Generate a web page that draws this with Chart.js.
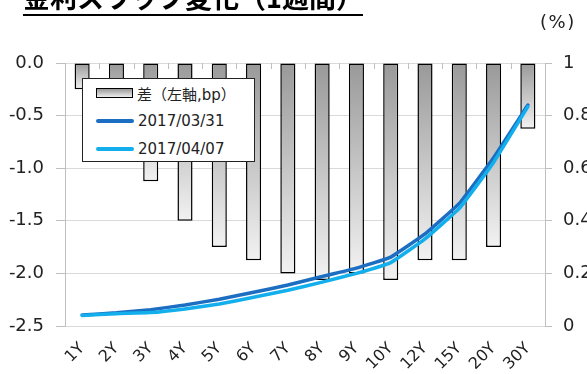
<!DOCTYPE html>
<html>
<head>
<meta charset="utf-8">
<script src="https://cdn.jsdelivr.net/npm/chart.js@4"></script>
<style>
  body { margin: 0; background: #fff; }
  #wrap { position: relative; width: 587px; height: 374px; overflow: hidden; font-family: "DejaVu Sans", "Noto Sans CJK JP", sans-serif; color: #222; }
  #title { position: absolute; left: 23px; top: -17px; font: bold 27px/27px "Noto Sans CJK JP", sans-serif; color: #000; border-bottom: 2.5px solid #000; padding-bottom: 4px; white-space: nowrap; }
  #unit { position: absolute; left: 540px; top: 11px; font-size: 18px; letter-spacing: 1.5px; }
  #legend { position: absolute; left: 82px; top: 78px; width: 171px; height: 82px; border: 1px solid #222; background: #fff; box-sizing: content-box; }
  .row { position: absolute; left: 13px; height: 20px; display: flex; align-items: center; font-size: 15px; white-space: nowrap; }
  .sw { width: 38px; margin-right: 4px; }
  .bar { height: 8px; border: 1.5px solid #000; box-sizing: content-box; width: 35px; background: linear-gradient(#999, #eee); }
  .line { height: 4px; border-radius: 2px; }
</style>
</head>
<body>
<div id="wrap">
  <canvas id="chart" width="587" height="374"></canvas>
  <div id="title">金利スワップ変化（1週間）</div>
  <div id="unit">(%)</div>
  <div id="legend"></div>
</div>
<script>
const tenors = ['1Y', '2Y', '3Y', '4Y', '5Y', '6Y', '7Y', '8Y', '9Y', '10Y', '12Y', '15Y', '20Y', '30Y'];
// change over the week, bp (left axis)
const diffBp = [-0.25, -0.75, -1.125, -1.5, -1.75, -1.875, -2.0, -2.0625, -2.0, -2.0625, -1.875, -1.875, -1.75, -0.625];
// swap rates, % (right axis)
const rate0331 = [0.042, 0.050, 0.062, 0.080, 0.102, 0.128, 0.156, 0.188, 0.220, 0.262, 0.350, 0.466, 0.640, 0.840];
const rate0407 = [0.040, 0.047, 0.051, 0.065, 0.084, 0.109, 0.136, 0.167, 0.200, 0.241, 0.331, 0.447, 0.622, 0.834];
const leftTicks = [0, -0.5, -1.0, -1.5, -2.0, -2.5];
const rightTicks = [0, 0.2, 0.4, 0.6, 0.8, 1];

const labels = ['差（左軸,bp）', '2017/03/31', '2017/04/07'];
const darkBlue = '#1B6EC2';
const lightBlue = '#13AFEC';

function barFill(c) {
  const chart = c.chart;
  if (!chart.chartArea || c.raw == null) return '#ccc';
  const ys = chart.scales.y;
  const g = chart.ctx.createLinearGradient(0, ys.getPixelForValue(0), 0, ys.getPixelForValue(c.raw));
  g.addColorStop(0, '#999999');
  g.addColorStop(1, '#f2f2f2');
  return g;
}

// small tick marks hanging down from the zero line between categories
const topTicks = {
  id: 'topTicks',
  beforeDatasetsDraw(chart) {
    const xs = chart.scales.x;
    const top = chart.scales.y.getPixelForValue(0);
    const ctx = chart.ctx;
    ctx.save();
    ctx.strokeStyle = '#bfbfbf';
    ctx.lineWidth = 1;
    for (let i = 1; i < tenors.length; i++) {
      const x = Math.round((xs.getPixelForValue(i - 1) + xs.getPixelForValue(i)) / 2) + 0.5;
      ctx.beginPath();
      ctx.moveTo(x, top);
      ctx.lineTo(x, top + 6);
      ctx.stroke();
    }
    ctx.restore();
  }
};

const font = { family: '"DejaVu Sans", "Noto Sans CJK JP", sans-serif', size: 16 };

new Chart(document.getElementById('chart'), {
  data: {
    labels: tenors,
    datasets: [
      {
        type: 'bar', label: labels[0], data: diffBp, yAxisID: 'y', order: 3,
        backgroundColor: barFill, borderColor: '#000', borderWidth: 1.5, borderSkipped: false,
        barPercentage: 0.44, categoryPercentage: 1
      },
      {
        type: 'line', label: labels[1], data: rate0331, yAxisID: 'y1', order: 2,
        borderColor: darkBlue, borderWidth: 3.5, pointRadius: 0, tension: 0.1, borderCapStyle: 'round', borderJoinStyle: 'round'
      },
      {
        type: 'line', label: labels[2], data: rate0407, yAxisID: 'y1', order: 1,
        borderColor: lightBlue, borderWidth: 3.5, pointRadius: 0, tension: 0.1, borderCapStyle: 'round', borderJoinStyle: 'round'
      }
    ]
  },
  options: {
    responsive: false,
    animation: false,
    devicePixelRatio: 1,
    layout: { padding: { top: 63, left: 0, right: 0, bottom: 0 } },
    plugins: { legend: { display: false }, tooltip: { enabled: false } },
    scales: {
      x: {
        position: 'bottom',
        grid: { display: false },
        border: { display: false },
        ticks: { minRotation: 45, maxRotation: 45, autoSkip: false, color: '#222', font, padding: 5 },
        afterFit(s) { s.height = 48; }
      },
      y: {
        position: 'left', min: -2.5, max: 0,
        afterBuildTicks(s) { s.ticks = leftTicks.map(v => ({ value: v })); },
        ticks: { callback: v => v.toFixed(1), color: '#222', font: { ...font, size: 18 }, padding: 12 },
        grid: { color: '#d9d9d9', tickLength: 9, tickColor: '#bfbfbf' },
        border: { color: '#bfbfbf' },
        afterFit(s) { s.width = 65; }
      },
      y1: {
        position: 'right', min: 0, max: 1,
        afterBuildTicks(s) { s.ticks = rightTicks.map(v => ({ value: v })); },
        ticks: { callback: v => (v === 0 || v === 1) ? String(v) : v.toFixed(1), color: '#222', font: { ...font, size: 18 }, padding: 11 },
        grid: { drawOnChartArea: false, tickLength: 7, color: '#bfbfbf' },
        border: { color: '#bfbfbf' },
        afterFit(s) { s.width = 42; }
      }
    }
  },
  plugins: [topTicks]
});

// legend box laid over the plot, built from the dataset labels
const legend = document.getElementById('legend');
const swatches = ['bar', 'line', 'line'];
const colors = [null, darkBlue, lightBlue];
labels.forEach((txt, i) => {
  const row = document.createElement('div');
  row.className = 'row';
  row.style.top = (4 + i * 28) + 'px';
  const sw = document.createElement('div');
  sw.className = 'sw ' + swatches[i];
  if (colors[i]) sw.style.background = colors[i];
  const span = document.createElement('span');
  span.textContent = txt;
  row.appendChild(sw);
  row.appendChild(span);
  legend.appendChild(row);
});
</script>
</body>
</html>
